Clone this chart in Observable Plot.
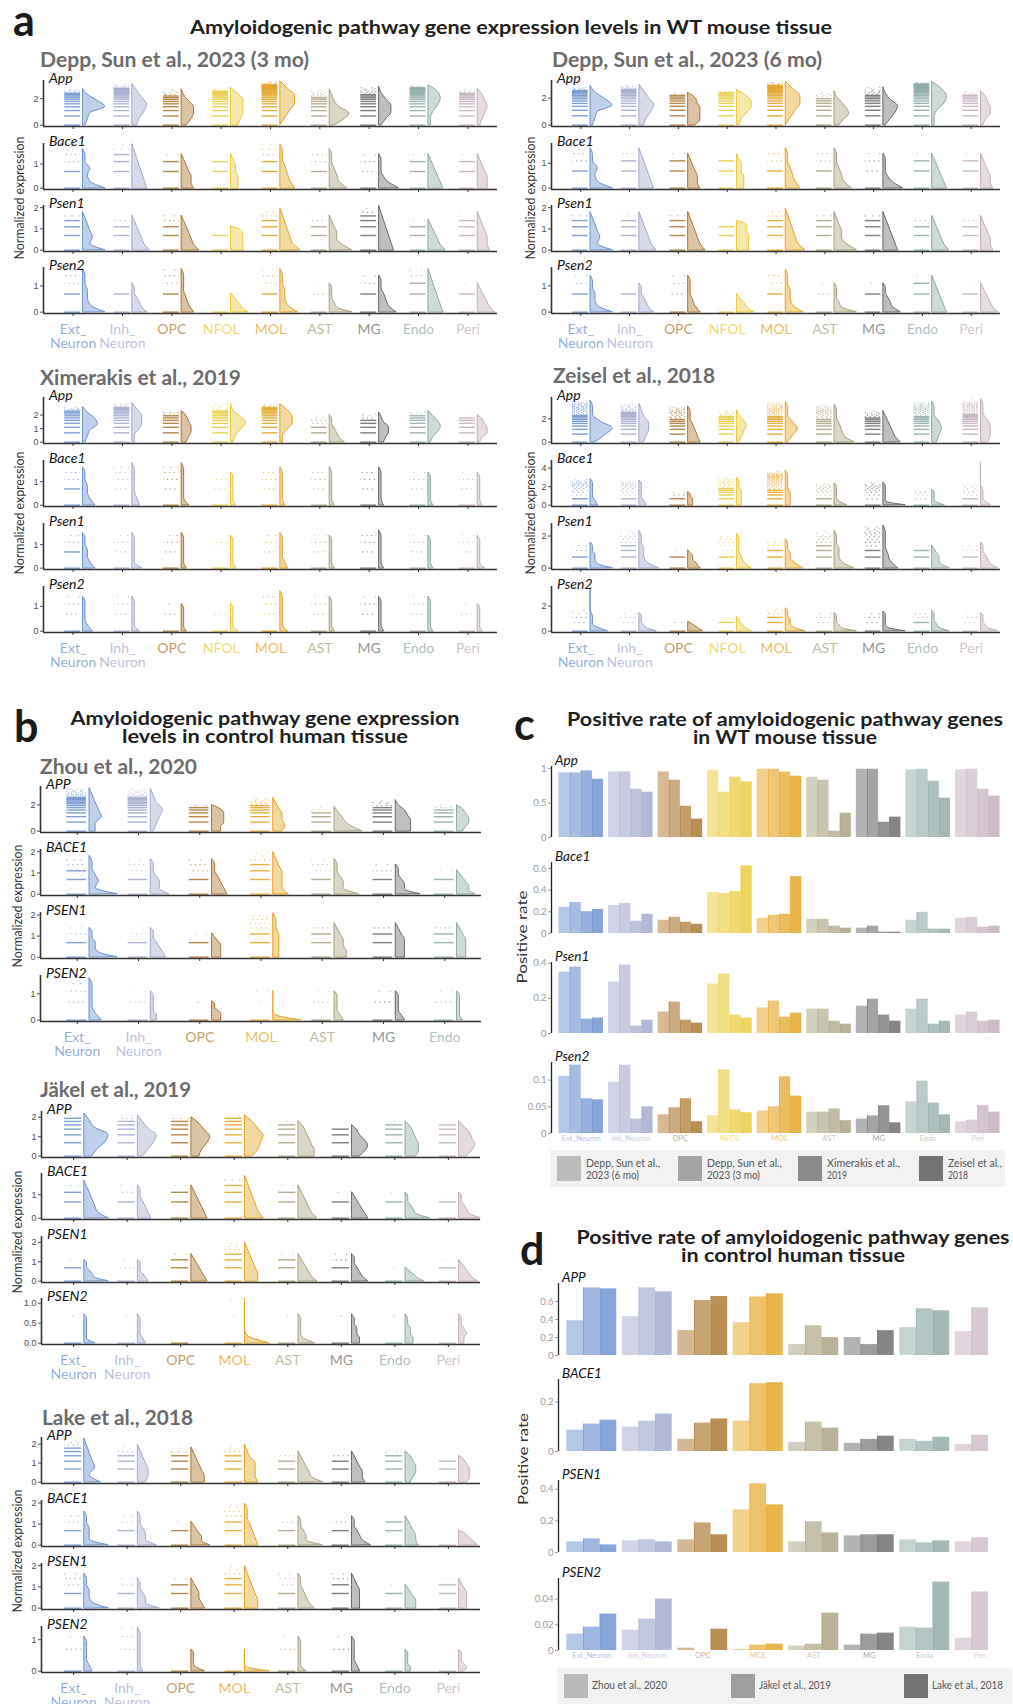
<!DOCTYPE html>
<html><head><meta charset="utf-8">
<script src="https://cdn.jsdelivr.net/npm/d3@7"></script>
<script src="https://cdn.jsdelivr.net/npm/@observablehq/plot@0.6"></script>
<style>
body{margin:0;background:#fff;}
#wrap{position:relative;width:1013px;height:1704px;overflow:hidden;background:#fff;font-family:Lato,"Open Sans",sans-serif;}
</style></head><body><div id="wrap"></div>
<script>
// ---------- categories ----------
const cellNames = ["Ext_Neuron","Inh_Neuron","OPC","NFOL","MOL","AST","MG","Endo","Peri"];
const cellLabels = ["Ext_\nNeuron","Inh_\nNeuron","OPC","NFOL","MOL","AST","MG","Endo","Peri"];
const cellColors = ["#6a8fcf","#a1a7cd","#a97329","#e7c935","#e3a11d","#a79f7d","#676767","#8ba7a3","#c1abb9"];
const mouseCells = [0,1,2,3,4,5,6,7,8];
const zhouCells = [0,1,2,4,5,6,7];
const humanCells = [0,1,2,4,5,6,7,8];
// discrete expression levels (log1p of counts) where the dots sit
const dotLevels = [0,0.69,1.10,1.39,1.61,1.79,1.95,2.08,2.20,2.30,2.40,2.48,2.56,2.64,2.71,2.77,2.83,2.89,2.94,3.00,3.04,3.09,3.14,3.18,3.22,3.26,3.30,3.33,3.37,3.40,3.43,3.50,3.58,3.66,3.74,3.85,3.97,4.11,4.26,4.43,4.61];

// ---------- violin data: [top of violin, half-width profile from 0 to top] ----------
const depp3App   = [[2.75,"1239620"],[3.1,"2356420"],[2.7,"2455310"],[2.8,"3455530"],[3.3,"0246630"],[2.7,"2684210"],[2.9,"1355310"],[3.0,"1124540"],[2.75,"1234320"]];
const depp3Bace1 = [[1.62,"9323110"],[1.82,"6543210"],[1.41,"5443210"],[1.41,"3332210"],[1.82,"6432110"],[1.62,"7432110"],[1.41,"8421110"],[1.41,"6543210"],[1.41,"4443210"]];
const depp3Psen1 = [[1.8,"9343210"],[1.63,"7543210"],[1.63,"7543210"],[1.12,"5555540"],[1.95,"8543210"],[1.63,"9533210"],[2.08,"6543210"],[1.44,"7543210"],[1.8,"5443210"]];
const depp3Psen2 = [[1.64,"9322110"],[1.1,"6432110"],[1.64,"5321110"],[0.72,"7543210"],[1.64,"7322110"],[1.1,"9321110"],[1.4,"7432110"],[1.64,"6543210"],[1.1,"7543210"]];

const depp6App   = [[2.9,"1239620"],[3.0,"2356420"],[2.4,"3555430"],[2.6,"1246640"],[3.2,"0246630"],[2.5,"2465310"],[2.8,"1356310"],[3.2,"1125640"],[2.5,"1244320"]];
const depp6Bace1 = [[1.61,"9323110"],[1.61,"6543210"],[1.39,"5443210"],[1.39,"3332210"],[1.61,"6432110"],[1.61,"7432110"],[1.39,"8421110"],[1.39,"6543210"],[1.39,"5443210"]];
const depp6Psen1 = [[1.79,"9343210"],[1.79,"7543210"],[1.79,"7543210"],[1.39,"5555440"],[1.95,"8543210"],[1.79,"9533210"],[1.79,"6543210"],[1.61,"7543210"],[1.61,"5443210"]];
const depp6Psen2 = [[1.39,"9322110"],[1.1,"6432110"],[1.39,"5321110"],[0.69,"7543210"],[1.61,"7322110"],[1.1,"9321110"],[1.1,"7432110"],[1.39,"6543210"],[1.1,"7543210"]];

const ximApp   = [[2.6,"1236520"],[2.9,"1134420"],[2.3,"2344320"],[2.8,"1246410"],[2.8,"1135530"],[2.0,"6432110"],[2.2,"2344210"],[2.3,"1245420"],[2.0,"1244320"]];
const ximBace1 = [[1.61,"5322110"],[1.79,"3211110"],[1.79,"3111110"],[1.39,"2111110"],[1.61,"2111110"],[1.61,"2111110"],[1.61,"2111110"],[1.39,"2111110"],[1.39,"2111110"]];
const ximPsen1 = [[1.5,"5322110"],[1.5,"4111110"],[1.5,"2111110"],[1.39,"2111110"],[1.5,"3211110"],[1.39,"2111110"],[1.61,"2111110"],[1.39,"2111110"],[1.39,"3111110"]];
const ximPsen2 = [[1.39,"4211110"],[1.39,"3111110"],[1.1,"2111110"],[1.1,"3111110"],[1.61,"3111110"],[1.39,"2111110"],[1.39,"2111110"],[1.39,"2111110"],[1.1,"2111110"]];

const zeiApp   = [[3.57,"2694110"],[3.3,"2344210"],[3.08,"5432110"],[2.76,"1234310"],[3.43,"1353110"],[3.2,"8432110"],[2.68,"7543210"],[3.49,"2343110"],[3.7,"3443110"]];
const zeiBace1 = [[2.83,"3211110"],[2.67,"3211110"],[1.4,"2222110"],[3.0,"2222110"],[3.73,"2221110"],[2.33,"5211110"],[2.43,"9111110"],[1.67,"5211110"],[4.57,"4110000"]];
const zeiPsen1 = [[1.6,"9322110"],[2.33,"8322110"],[1.12,"5432210"],[2.14,"6321110"],[1.8,"7422110"],[2.33,"8322110"],[2.65,"6321110"],[1.41,"7433210"],[1.6,"7432110"]];
const zeiPsen2 = [[3.43,"7110000"],[1.45,"7321110"],[0.75,"6543210"],[1.12,"6432110"],[1.82,"8322110"],[1.43,"9321110"],[1.55,"9211110"],[1.62,"7321110"],[1.45,"7321110"]];

const zhouApp   = [[3.28,"2243210"],[3.23,"1234210"],[1.98,"3344430"],[2.54,"3433210"],[1.85,"9643210"],[2.37,"5554310"],[1.98,"2344320"]];
const zhouBace1 = [[1.8,"9232110"],[1.65,"6332110"],[1.65,"5432110"],[1.98,"5333210"],[1.65,"8332110"],[1.4,"8332110"],[1.13,"6443210"]];
const zhouPsen1 = [[1.39,"9322110"],[1.39,"5432110"],[1.13,"3333210"],[2.09,"2222110"],[1.62,"4433210"],[1.62,"3333210"],[1.62,"3333210"]];
const zhouPsen2 = [[1.6,"4211110"],[1.1,"2211110"],[0.72,"3332110"],[1.1,"9100000"],[1.1,"3211110"],[1.1,"3211110"],[1.1,"2111110"]];

const jakApp   = [[2.2,"3589420"],[2.1,"2467420"],[2.0,"3467530"],[2.1,"3567530"],[1.8,"6654320"],[1.6,"3565320"],[1.8,"4554320"],[1.8,"3565420"]];
const jakBace1 = [[1.6,"9543210"],[1.4,"5432110"],[1.4,"6543210"],[1.8,"7543210"],[1.4,"7543210"],[1.1,"6543210"],[1.1,"9432110"],[1.1,"8432110"]];
const jakPsen1 = [[1.1,"9432110"],[1.1,"4321110"],[1.4,"6543210"],[2.0,"5543210"],[1.4,"7543210"],[1.4,"6432110"],[0.7,"7543210"],[1.1,"7543210"]];
const jakPsen2 = [[0.72,"4111110"],[0.72,"3211110"],[0,"0"],[1.12,"9100000"],[0.72,"6211110"],[0.72,"3322110"],[0.72,"3322110"],[0.72,"2232110"]];

const lakeApp   = [[2.3,"6243210"],[1.97,"3443210"],[1.83,"5543210"],[1.97,"5444210"],[1.62,"9543210"],[1.62,"5443210"],[1.62,"2344320"],[1.39,"3444320"]];
const lakeBace1 = [[1.6,"9222110"],[1.6,"7332110"],[1.11,"7443210"],[1.97,"5432110"],[1.38,"9332110"],[1.38,"7432110"],[1.38,"5443210"],[0.68,"7654320"]];
const lakePsen1 = [[1.63,"9322110"],[1.4,"8332110"],[1.4,"5433210"],[1.97,"5543210"],[1.63,"6432110"],[1.63,"3333210"],[1.1,"4443210"],[1.4,"3333210"]];
const lakePsen2 = [[1.1,"3211110"],[1.39,"2111110"],[0.68,"5211110"],[0.68,"9100000"],[1.1,"3111110"],[1.1,"3211110"],[0.68,"2211110"],[0.68,"2321110"]];

// ---------- positive rates, panel c (mouse) ----------
const cApp_depp6 = [0.937,0.952,0.952,0.976,0.99,0.874,0.99,0.981,0.981];
const cApp_depp3 = [0.937,0.952,0.831,0.657,0.99,0.831,0.99,0.99,0.99];
const cApp_xim   = [0.966,0.70,0.454,0.874,0.947,0.092,0.222,0.816,0.70];
const cApp_zei   = [0.845,0.657,0.266,0.807,0.889,0.353,0.295,0.57,0.60];
const cBace1_depp6 = [0.241,0.259,0.122,0.378,0.140,0.131,0.049,0.122,0.140];
const cBace1_depp3 = [0.286,0.277,0.149,0.369,0.168,0.131,0.067,0.195,0.149];
const cBace1_xim   = [0.201,0.113,0.104,0.387,0.177,0.067,0.012,0.040,0.058];
const cBace1_zei   = [0.222,0.177,0.085,0.624,0.524,0.049,0.012,0.040,0.067];
const cPsen1_depp6 = [0.350,0.293,0.122,0.282,0.145,0.139,0.156,0.139,0.105];
const cPsen1_depp3 = [0.379,0.390,0.179,0.339,0.185,0.139,0.196,0.196,0.122];
const cPsen1_xim   = [0.082,0.042,0.076,0.105,0.093,0.070,0.105,0.053,0.070];
const cPsen1_zei   = [0.088,0.076,0.059,0.088,0.116,0.053,0.070,0.070,0.076];
const cPsen2_depp6 = [0.107,0.096,0.035,0.033,0.042,0.040,0.027,0.059,0.022];
const cPsen2_depp3 = [0.128,0.128,0.048,0.119,0.050,0.040,0.033,0.098,0.025];
const cPsen2_xim   = [0.065,0.027,0.065,0.044,0.106,0.046,0.052,0.057,0.052];
const cPsen2_zei   = [0.063,0.050,0.022,0.039,0.070,0.024,0.020,0.035,0.040];

// ---------- positive rates, panel d (human) ----------
const dApp_zhou  = [0.386,0.431,0.276,0.364,0.121,0.199,0.309,null];
const dApp_jak   = [0.751,0.751,0.611,0.651,0.331,0.121,0.519,0.265];
const dApp_lake  = [0.740,0.707,0.655,0.685,0.199,0.276,0.497,0.530];
const dBace1_zhou = [0.086,0.099,0.049,0.123,0.037,0.033,0.049,null];
const dBace1_jak  = [0.111,0.123,0.115,0.275,0.119,0.049,0.041,0.029];
const dBace1_lake = [0.127,0.152,0.132,0.279,0.095,0.062,0.058,0.066];
const dPsen1_zhou = [0.067,0.074,0.080,0.269,0.067,0.105,0.080,null];
const dPsen1_jak  = [0.086,0.080,0.187,0.434,0.194,0.112,0.061,0.067];
const dPsen1_lake = [0.048,0.067,0.112,0.301,0.124,0.112,0.074,0.093];
const dPsen2_zhou = [0.0127,0.0158,0.0018,0.0008,0.0034,0.0042,0.0182,null];
const dPsen2_jak  = [0.0182,0.0244,0,0.0042,0.0049,0.0127,0.0174,0.0096];
const dPsen2_lake = [0.0283,0.040,0.0166,0.0049,0.0291,0.0135,0.0532,0.0455];

const mouseDatasets = [["Depp, Sun et al.,","2023 (6 mo)"],["Depp, Sun et al.,","2023 (3 mo)"],["Ximerakis et al.,","2019"],["Zeisel et al.,","2018"]];
const humanDatasets = ["Zhou et al., 2020","Jäkel et al., 2019","Lake et al., 2018"];

// ---------- layout ----------
const wrap = document.getElementById("wrap");
const VSPAN = 46;
const FONT = "Lato, 'Open Sans', sans-serif";

function place(svg, left, top) {
  svg.style.position = "absolute";
  svg.style.left = left + "px";
  svg.style.top = top + "px";
  wrap.appendChild(svg);
}

function violinRow(cfg, r) {
  const data = cfg.rows[r], cells = cfg.cells, n = cells.length;
  const ymax = cfg.ymax[r], ticks = cfg.ticks[r], y0 = cfg.y0s[r];
  const last = r === cfg.rows.length - 1;
  const ML = 28, MR = 4, MT = 2, MB = last ? 46 : 6;
  const W = ML + (cfg.xr - cfg.xl) + MR, H = MT + VSPAN + MB;
  const ylo = -0.03 * ymax;
  const col = i => cellColors[cells[i]];
  const vio = [], strips = [];
  data.forEach(([top, prof], i) => {
    const ws = prof.split("").map(Number);
    const m = ws.length - 1;
    if (top > 0 && m > 0) ws.forEach((w, k) => vio.push({i, y: top * k / m, x1: i + 0.2, x2: i + 0.2 + w * 0.05}));
    dotLevels.forEach((l, k) => {
      if (l > 0 && l > top + 1e-9) return;
      let w = 9;
      if (l > 0 && m > 0) {
        const t = l / top * m; const j = Math.min(m - 1, Math.floor(t));
        w = ws[j] + (ws[j + 1] - ws[j]) * (t - j);
      }
      if (w < 0.05 && l > 1.4) return;
      strips.push({i, y: l, w, k});
    });
  });
  const fmt = cfg.fmt && cfg.fmt[r] ? cfg.fmt[r] : (d => String(d));
  const sx1 = d => d.i - 0.17, sx2 = d => d.i + 0.15;
  const marks = [
    Plot.ruleY(strips.filter(d => d.w >= 1.2), {y: "y", x1: sx1, x2: sx2, stroke: d => col(d.i), strokeWidth: 1.4, strokeOpacity: 0.85})
  ];
  const sparse = strips.filter(d => d.w < 1.2);
  [[0.8, 1.2, "1.2 3.5", 0.7], [0.4, 0.8, "1.2 6", 0.6], [-1, 0.4, "1.2 10", 0.5]].forEach(([lo, hi, da, op]) => {
    [0, 1, 2, 3].forEach(o => {
      const sub = sparse.filter(d => d.w >= lo && d.w < hi && d.k % 4 === o);
      if (sub.length) marks.push(Plot.ruleY(sub, {y: "y", x1: sx1, x2: sx2, stroke: d => col(d.i), strokeWidth: 1.2, strokeOpacity: op, strokeDasharray: da, strokeDashoffset: o * 2.7}));
    });
  });
  marks.push(
    Plot.areaX(vio, {y: "y", x1: "x1", x2: "x2", z: "i", fill: d => col(d.i), fillOpacity: 0.42, stroke: d => col(d.i), strokeWidth: 1, curve: "monotone-y"}),
    Plot.ruleY([ylo], {stroke: "#333", strokeWidth: 1.6}),
    Plot.ruleX([-0.6], {y1: ylo, y2: ymax, stroke: "#333", strokeWidth: 1.6}),
    Plot.axisY(ticks, {tickSize: 3, tickPadding: 2, fontSize: 9, tickFormat: fmt, label: null, color: "#4d4d4d", fontFamily: "Liberation Sans, Arial, sans-serif"}),
    Plot.axisX(d3.range(n), {tickSize: 3, tickFormat: () => "", label: null, color: "#333"})
  );
  if (last) marks.push(Plot.text(d3.range(n), {x: d => d, y: ylo, text: d => cellLabels[cells[d]], dy: 11, lineAnchor: "top", fill: d => col(d), fillOpacity: 0.72, fontSize: 14}));
  const svg = Plot.plot({
    width: W, height: H, marginLeft: ML, marginRight: MR, marginTop: MT, marginBottom: MB,
    x: {domain: [-0.6, n - 0.4]}, y: {domain: [ylo, ymax]}, color: {type: "identity"},
    style: {background: "transparent", overflow: "visible", fontFamily: FONT},
    marks
  });
  place(svg, cfg.xl - ML, y0 - VSPAN - MT);
}

function barRow(cfg, r) {
  const series = cfg.rows[r], cells = cfg.cells, n = cells.length;
  const ymax = cfg.ymax[r], ticks = cfg.ticks[r], y0 = cfg.y0s[r], span = cfg.span;
  const last = r === cfg.rows.length - 1;
  const ML = 30, MR = 2, MT = 2, MB = last ? 14 : 2;
  const W = ML + (cfg.xr - cfg.xl) + MR, H = MT + span + MB;
  const bw = 0.9 / series.length;
  const col = i => cellColors[cells[i]];
  const bars = [];
  for (let i = 0; i < n; i++) {
    let s = 0;
    series.forEach(arr => { if (arr[i] == null) return; bars.push({i, v: arr[i], s}); s++; });
  }
  const marks = [
    Plot.rectY(bars, {x1: d => d.i - 0.45 + d.s * bw, x2: d => d.i - 0.45 + (d.s + 1) * bw, y1: 0, y2: "v", fill: d => col(d.i), fillOpacity: d => cfg.alphas[d.s]}),
    Plot.ruleX(bars.filter(d => d.s > 0 && d.v > 0), {x: d => d.i - 0.45 + d.s * bw, y1: 0, y2: "v", stroke: d => col(d.i), strokeOpacity: 0.55, strokeWidth: 0.8}),
    Plot.ruleX([-0.6], {y1: 0, y2: ymax, stroke: "#222", strokeWidth: 1.3}),
    Plot.axisY(ticks, {tickSize: 3, tickPadding: 2, fontSize: 9.5, tickFormat: d => String(d), label: null, color: "#9a9a9a"})
  ];
  if (last) marks.push(Plot.text(d3.range(n), {x: d => d, y: 0, text: d => cellNames[cells[d]], dy: 2, lineAnchor: "top", fill: d => col(d), fillOpacity: 0.6, fontSize: 7.5}));
  const svg = Plot.plot({
    width: W, height: H, marginLeft: ML, marginRight: MR, marginTop: MT, marginBottom: MB,
    x: {domain: [-0.6, n - 0.4], axis: null}, y: {domain: [0, ymax]}, color: {type: "identity"},
    style: {background: "transparent", overflow: "visible", fontFamily: FONT},
    marks
  });
  place(svg, cfg.xl - ML, y0 - span - MT);
}

const violinPanels = [
  {cells: mouseCells, xl: 43, xr: 497, y0s: [126,189,251,313], genes: ["App","Bace1","Psen1","Psen2"], rows: [depp3App,depp3Bace1,depp3Psen1,depp3Psen2], ymax: [3.37,1.85,2.1,1.7], ticks: [[0,2],[0,1],[0,1,2],[0,1]]},
  {cells: mouseCells, xl: 551, xr: 1000, y0s: [126,189,251,313], genes: ["App","Bace1","Psen1","Psen2"], rows: [depp6App,depp6Bace1,depp6Psen1,depp6Psen2], ymax: [3.3,1.8,2.1,1.7], ticks: [[0,2],[0,1],[0,1,2],[0,1]]},
  {cells: mouseCells, xl: 43, xr: 497, y0s: [443,506,569,632], genes: ["App","Bace1","Psen1","Psen2"], rows: [ximApp,ximBace1,ximPsen1,ximPsen2], ymax: [3.3,1.9,1.9,1.8], ticks: [[0,1,2],[0,1],[0,1],[0,1]]},
  {cells: mouseCells, xl: 551, xr: 1000, y0s: [443,506,569,632], genes: ["App","Bace1","Psen1","Psen2"], rows: [zeiApp,zeiBace1,zeiPsen1,zeiPsen2], ymax: [3.84,4.83,2.78,3.55], ticks: [[0,2],[0,2,4],[0,2],[0,2]]},
  {cells: zhouCells, xl: 40, xr: 481, y0s: [832,895,958,1021], genes: ["APP","BACE1","PSEN1","PSEN2"], rows: [zhouApp,zhouBace1,zhouPsen1,zhouPsen2], ymax: [3.4,2.1,2.12,1.7], ticks: [[0,2],[0,1,2],[0,1,2],[0,1]]},
  {cells: humanCells, xl: 41, xr: 480, y0s: [1157,1219,1282,1344], genes: ["APP","BACE1","PSEN1","PSEN2"], rows: [jakApp,jakBace1,jakPsen1,jakPsen2], ymax: [2.3,1.9,2.3,1.12], ticks: [[0,1,2],[0,1],[0,1,2],[0,0.5,1]], fmt: [null,null,null,d3.format(".1f")]},
  {cells: humanCells, xl: 41, xr: 480, y0s: [1483,1546,1609,1672], genes: ["APP","BACE1","PSEN1","PSEN2"], rows: [lakeApp,lakeBace1,lakePsen1,lakePsen2], ymax: [2.35,2.12,2.1,1.42], ticks: [[0,1,2],[0,1,2],[0,1,2],[0,1]]}
];
violinPanels.forEach(cfg => cfg.rows.forEach((_, r) => violinRow(cfg, r)));

const barPanels = [
  {cells: mouseCells, xl: 551, xr: 1007, span: 71, y0s: [837,933,1033,1133], genes: ["App","Bace1","Psen1","Psen2"], alphas: [0.5,0.6,0.7,0.8],
   rows: [[cApp_depp6,cApp_depp3,cApp_xim,cApp_zei],[cBace1_depp6,cBace1_depp3,cBace1_xim,cBace1_zei],[cPsen1_depp6,cPsen1_depp3,cPsen1_xim,cPsen1_zei],[cPsen2_depp6,cPsen2_depp3,cPsen2_xim,cPsen2_zei]],
   ymax: [1.03,0.655,0.405,0.133], ticks: [[0,0.5,1],[0,0.2,0.4,0.6],[0,0.2,0.4],[0,0.05,0.1]]},
  {cells: humanCells, xl: 558, xr: 1013, span: 72, y0s: [1355,1451,1552,1650], genes: ["APP","BACE1","PSEN1","PSEN2"], alphas: [0.5,0.65,0.8],
   rows: [[dApp_zhou,dApp_jak,dApp_lake],[dBace1_zhou,dBace1_jak,dBace1_lake],[dPsen1_zhou,dPsen1_jak,dPsen1_lake],[dPsen2_zhou,dPsen2_jak,dPsen2_lake]],
   ymax: [0.8,0.292,0.455,0.056], ticks: [[0,0.2,0.4,0.6],[0,0.2],[0,0.2,0.4],[0,0.02,0.04]]}
];
barPanels.forEach(cfg => cfg.rows.forEach((_, r) => barRow(cfg, r)));

// ---------- overlay text ----------
const ov = d3.select(wrap).append("svg").attr("width", 1013).attr("height", 1704)
  .style("position", "absolute").style("left", "0px").style("top", "0px").style("pointer-events", "none");
function txt(x, y, s, o = {}) {
  const t = ov.append("text").attr("x", x).attr("y", y).text(s)
    .attr("font-family", o.family || FONT).attr("font-size", o.size || 14)
    .attr("font-weight", o.weight || "normal").attr("font-style", o.style || "normal")
    .attr("fill", o.fill || "#222").attr("text-anchor", o.anchor || "start");
  if (o.len) t.attr("textLength", o.len).attr("lengthAdjust", "spacingAndGlyphs");
  if (o.rot) t.attr("transform", `rotate(-90 ${x} ${y})`);
  return t;
}
const B = {size: 43, weight: "bold", fill: "#1a1a1a"};
const T = {size: 19.5, weight: "bold", fill: "#1e1e1e", anchor: "middle"};
const S = {size: 20, weight: "bold", fill: "#6b6b6b"};
txt(13, 36, "a", B);
txt(511, 34, "Amyloidogenic pathway gene expression levels in WT mouse tissue", {...T, len: 642});
txt(40, 67, "Depp, Sun et al., 2023 (3 mo)", {...S, len: 269});
txt(552, 67, "Depp, Sun et al., 2023 (6 mo)", {...S, len: 270});
txt(40, 385, "Ximerakis et al., 2019", {...S, len: 201});
txt(553, 383, "Zeisel et al., 2018", {...S, len: 162});
txt(14, 742, "b", B);
txt(265, 725, "Amyloidogenic pathway gene expression", {...T, len: 389});
txt(265, 743, "levels in control human tissue", {...T, len: 286});
txt(40, 774, "Zhou et al., 2020", {...S, len: 157});
txt(40, 1097, "Jäkel et al., 2019", {...S, len: 151});
txt(42, 1425, "Lake et al., 2018", {...S, len: 151});
txt(514, 740, "c", B);
txt(785, 726, "Positive rate of amyloidogenic pathway genes", {...T, len: 436});
txt(785, 744, "in WT mouse tissue", {...T, len: 184});
txt(520, 1265, "d", B);
txt(793, 1244, "Positive rate of amyloidogenic pathway genes", {...T, len: 433});
txt(793, 1262, "in control human tissue", {...T, len: 224});

// gene labels on violin rows
violinPanels.forEach(cfg => cfg.genes.forEach((g, r) => txt(cfg.xl + 6, cfg.y0s[r] - VSPAN + 3, g, {size: 14, style: "italic", fill: "#111"})));
// gene labels on bar rows
barPanels.forEach(cfg => cfg.genes.forEach((g, r) => txt(cfg.xl + 4, cfg.y0s[r] - cfg.span - 1, g, {size: 13.5, style: "italic", fill: "#111"})));

// y axis titles
const YL = {size: 13, fill: "#333", anchor: "middle", rot: true};
[[24,198],[535,198],[24,513],[535,513],[22,906],[22,1232],[22,1551]].forEach(([x, y]) => txt(x, y, "Normalized expression", {...YL, len: 123}));
txt(527, 937, "Positive rate", {...YL, len: 93});
txt(528, 1459, "Positive rate", {...YL, len: 92});

// legends
ov.append("rect").attr("x", 550).attr("y", 1150).attr("width", 455).attr("height", 37).attr("fill", "#f2f2f2");
const cKeyX = [557, 678, 798, 919], cKeyFill = ["#bbbbbb", "#a3a3a3", "#8a8a8a", "#737373"];
const cLens = [[74,53],[75,53],[73,20],[54,20]];
mouseDatasets.forEach((lab, j) => {
  ov.append("rect").attr("x", cKeyX[j]).attr("y", 1156).attr("width", 24).attr("height", 25).attr("fill", cKeyFill[j]);
  txt(cKeyX[j] + 29, 1167, lab[0], {size: 11, fill: "#555", len: cLens[j][0]});
  txt(cKeyX[j] + 29, 1179, lab[1], {size: 11, fill: "#555", len: cLens[j][1]});
});
ov.append("rect").attr("x", 557).attr("y", 1668).attr("width", 455).attr("height", 36).attr("fill", "#f2f2f2");
const dKeyX = [564, 731, 904], dKeyFill = ["#bababa", "#9e9e9e", "#747474"], dLens = [75, 72, 71];
humanDatasets.forEach((lab, j) => {
  ov.append("rect").attr("x", dKeyX[j]).attr("y", 1674).attr("width", 24).attr("height", 24).attr("fill", dKeyFill[j]);
  txt(dKeyX[j] + 28, 1689, lab, {size: 11, fill: "#555", len: dLens[j]});
});
</script></body></html>
